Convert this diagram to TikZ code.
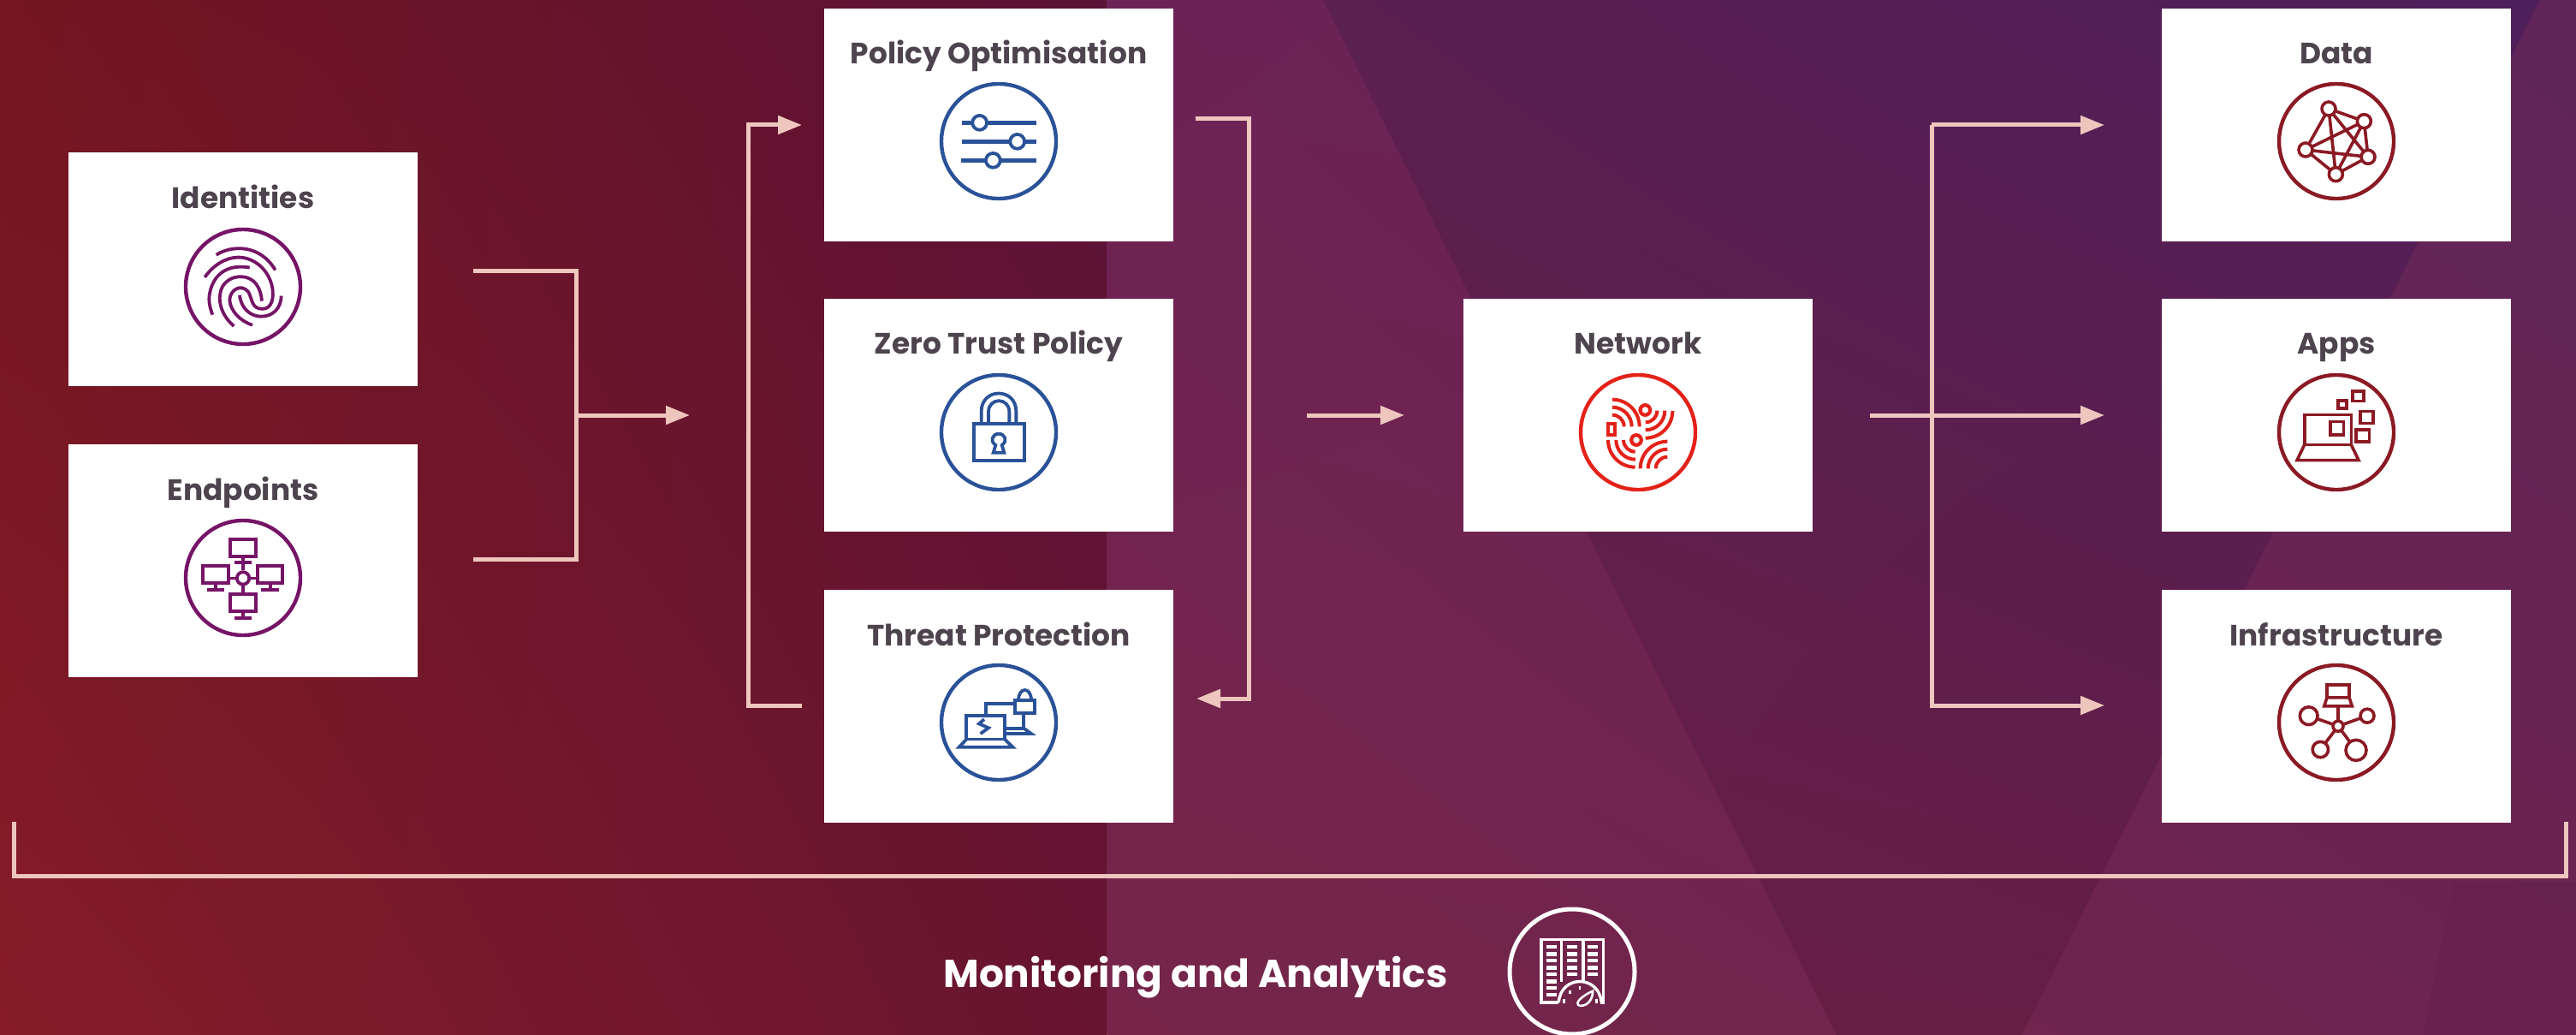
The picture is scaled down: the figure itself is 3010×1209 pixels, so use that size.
\documentclass[tikz,border=0pt]{standalone}
\usepackage{fontspec}
\setmainfont{Poppins}
\usetikzlibrary{arrows.meta,shadings}
\definecolor{lnk}{HTML}{EEC6BD}
\definecolor{ttl}{HTML}{4D444D}
\definecolor{plum}{HTML}{761467}
\definecolor{navy}{HTML}{2A5298}
\definecolor{redd}{HTML}{E32219}
\definecolor{wine}{HTML}{8B1A24}
\definecolor{aul}{HTML}{741520}
\definecolor{aur}{HTML}{5A1237}
\definecolor{all}{HTML}{851C28}
\definecolor{alr}{HTML}{671430}
\definecolor{bul}{HTML}{6D2256}
\definecolor{bur}{HTML}{5F2558}
\definecolor{bll}{HTML}{762548}
\definecolor{blr}{HTML}{6C2451}
\definecolor{cul}{HTML}{5B1F50}
\definecolor{cur}{HTML}{4D1F5B}
\definecolor{cll}{HTML}{6A1F44}
\definecolor{clr}{HTML}{631D46}
\tikzset{
  boxnode/.style={rectangle,fill=white,inner sep=0pt,outer sep=0pt,minimum width=204pt,minimum height=136pt},
  titlenode/.style={anchor=base,inner sep=0pt,text=ttl,font=\fontsize{17.2}{20}\selectfont\bfseries},
  ringnode/.style={circle,draw=#1,line width=2.2pt,inner sep=0pt,outer sep=0pt,minimum size=67pt},
  linkline/.style={draw=lnk,line width=2.5pt,line join=miter},
  linkarrow/.style={linkline,-{Triangle[length=14pt,width=10.5pt,fill=lnk]}},
  zone/.style={line width=1.9pt,line join=miter},
  zA/.style={shift={(60,170)},x=0.16667pt,y=-0.20088pt},
  zB/.style={shift={(950,0)},x=0.16667pt,y=-0.16667pt},
  zC/.style={shift={(950,340)},x=0.16667pt,y=-0.20088pt},
  zD/.style={shift={(1700,340)},x=0.16667pt,y=-0.16667pt},
  zE/.style={shift={(2520,0)},x=0.16667pt,y=-0.16667pt},
  zF/.style={shift={(2520,340)},x=0.16667pt,y=-0.20088pt},
  zG/.style={shift={(1080,1030)},x=0.28058pt,y=-0.16667pt},
}
\begin{document}
\begin{tikzpicture}[x=0.5pt,y=-0.5pt]
\useasboundingbox (0,0) rectangle (3010,1209);
% background
\shade[upper left=aul,upper right=aur,lower left=all,lower right=alr] (0,0) rectangle (1293.5,1209);
\shade[upper left=bul,upper right=bur,lower left=bll,lower right=blr] (1293.5,0) rectangle (3010,1209);
\begin{scope}
\clip (1546,0) -- (2967,0) -- (2362,1209) -- (2146,1209) -- cycle;
\shade[upper left=cul,upper right=cur,lower left=cll,lower right=clr] (1546,0) rectangle (2967,1209);
\end{scope}
\fill[color=black,opacity=.03] (2867,1030) -- (3010,1030) -- (3010,1209) -- (2831,1209) -- cycle;

% boxes
\node[boxnode] (identities) at (284,314.5) {};
\node[boxnode] (endpoints) at (284,655) {};
\node[boxnode] (policyopt) at (1167,146) {};
\node[boxnode] (zerotrust) at (1167,485) {};
\node[boxnode] (threat) at (1167,825) {};
\node[boxnode] (network) at (1914,485) {};
\node[boxnode] (data) at (2730,146) {};
\node[boxnode] (apps) at (2730,485) {};
\node[boxnode] (infra) at (2730,825) {};

% titles
\node[titlenode] (tidentities) at (284,244) {Identities};
\node[titlenode] (tendpoints) at (284,584) {Endpoints};
\node[titlenode] (tpolicyopt) at (1167,75) {Policy Optimisation};
\node[titlenode] (tzerotrust) at (1167,414) {Zero Trust Policy};
\node[titlenode] (tthreat) at (1167,754) {Threat Protection};
\node[titlenode] (tnetwork) at (1914,414) {Network};
\node[titlenode] (tdata) at (2730,75) {Data};
\node[titlenode] (tapps) at (2730,414) {Apps};
\node[titlenode] (tinfra) at (2730,754) {Infrastructure};

% rings
\node[ringnode=plum] (ridentities) at (284,335) {};
\node[ringnode=plum] (rendpoints) at (284,675) {};
\node[ringnode=navy] (rpolicyopt) at (1167,165) {};
\node[ringnode=navy] (rzerotrust) at (1167,505) {};
\node[ringnode=navy] (rthreat) at (1167,844) {};
\node[ringnode=redd] (rnetwork) at (1914,505) {};
\node[ringnode=wine] (rdata) at (2730,165) {};
\node[ringnode=wine] (rapps) at (2730,505) {};
\node[ringnode=wine] (rinfra) at (2730,844) {};

% fingerprint
\begin{scope}[zA,color=plum,zone]
\draw (578,318) .. controls (630,290) and (730,285) .. (785,362);
\draw (695,355) .. controls (630,345) and (570,365) .. (555,430) .. controls (550,450) and (555,470) .. (565,492);
\draw (640,525) .. controls (590,490) and (580,440) .. (600,410) .. controls (625,375) and (690,370) .. (720,405) .. controls (732,420) and (736,435) .. (738,452);
\draw (660,435) .. controls (665,475) and (700,497) .. (735,497) .. controls (775,497) and (805,475) .. (806,437);
\draw (705,522) .. controls (660,510) and (628,480) .. (625,450) .. controls (625,420) and (665,400) .. (690,425) .. controls (705,445) and (700,475) .. (740,475) .. controls (775,475) and (780,440) .. (775,415) .. controls (765,365) and (715,325) .. (655,325) .. controls (610,325) and (565,350) .. (538,383);
\end{scope}

% endpoints
\begin{scope}[zA,color=plum,zone]
\draw (628,1145) rectangle (716,1195);
\draw (532,1222) rectangle (620,1272);
\draw (724,1222) rectangle (810,1272);
\draw (628,1305) rectangle (716,1355);
\draw (672,1195) -- (672,1235);
\draw (642,1213) -- (702,1213);
\draw (576,1272) -- (576,1291) (545,1291) -- (607,1291);
\draw (767,1272) -- (767,1291) (735,1291) -- (797,1291);
\draw (672,1355) -- (672,1373) (642,1373) -- (702,1373);
\draw (620,1258) -- (724,1258);
\draw (672,1258) -- (672,1305);
\draw[fill=white] (672,1258) circle (3.6pt);
\end{scope}

% sliders
\begin{scope}[zB,color=navy]
\draw[line width=2.5pt] (522,430) -- (783,430) (522,496) -- (783,496) (519,562) -- (783,562);
\draw[zone,fill=white] (584,430) circle (4.2pt) (716,496) circle (4.2pt) (631,562) circle (4.2pt);
\end{scope}

% lock
\begin{scope}[zC,color=navy,zone]
\draw (563,385) rectangle (740,493);
\draw (590,385) -- (590,350) .. controls (590,280) and (712,280) .. (712,350) -- (712,385);
\draw (615,385) -- (615,352) .. controls (615,308) and (688,308) .. (688,352) -- (688,385);
\draw (640,448) .. controls (618,435) and (630,415) .. (651,415) .. controls (672,415) and (684,435) .. (662,448) -- (670,470) -- (632,470) -- cycle;
\end{scope}

% threat
\begin{scope}[zC,color=navy,zone]
\draw (605,1235) -- (605,1200) -- (707,1200);
\draw (678,1272) -- (740,1272) -- (765,1287) -- (678,1287);
\draw (738,1227) -- (738,1272);
\draw (707,1190) rectangle (777,1227);
\draw (720,1190) .. controls (720,1150) and (765,1150) .. (765,1190);
\draw (538,1303) -- (538,1235) -- (672,1235) -- (672,1303) -- cycle;
\draw (538,1303) -- (512,1326) -- (700,1326) -- (672,1303);
\draw (600,1245) -- (582,1258) -- (615,1270) -- (587,1287);
\end{scope}

% network icon
\begin{scope}[zD,color=redd,line width=2pt]
\draw (552,380) arc[start angle=-90,end angle=0,radius=95];
\draw (552,407) arc[start angle=-90,end angle=0,radius=68];
\draw (552,434) arc[start angle=-90,end angle=0,radius=41];
\draw (668,515) arc[start angle=90,end angle=0,radius=95];
\draw (668,487) arc[start angle=90,end angle=0,radius=68];
\draw (668,460) arc[start angle=90,end angle=0,radius=41];
\draw (537,522) arc[start angle=180,end angle=90,radius=95];
\draw (565,522) arc[start angle=180,end angle=90,radius=68];
\draw (591,522) arc[start angle=180,end angle=90,radius=41];
\draw (650,622) arc[start angle=180,end angle=270,radius=95];
\draw (677,622) arc[start angle=180,end angle=270,radius=68];
\draw (704,622) arc[start angle=180,end angle=270,radius=41];
\draw[line width=2.1pt] (537,465) rectangle (562,503);
\draw[line width=2.1pt] (667,417) circle (2.9pt) (636,522) circle (2.9pt);
\end{scope}

% data icon
\begin{scope}[zE,color=wine,line width=1.8pt]
\coordinate (na) at (603,381);
\coordinate (nb) at (727,425);
\coordinate (nc) at (522,525);
\coordinate (nd) at (741,550);
\coordinate (ne) at (628,611);
\draw (na) -- (nb) (na) -- (nc) (na) -- (nd) (na) -- (ne) (nb) -- (nc) (nb) -- (nd) (nb) -- (ne) (nc) -- (nd) (nc) -- (ne) (nd) -- (ne);
\draw[fill=white] (na) circle (4pt) (nb) circle (4pt) (nc) circle (4pt) (nd) circle (4pt) (ne) circle (4pt);
\end{scope}

% apps icon
\begin{scope}[zF,color=wine,line width=1.8pt,line join=miter]
\draw (518,447) -- (518,360) -- (682,360) -- (682,447) -- cycle;
\draw (518,447) -- (492,492) -- (708,492) -- (682,447);
\draw (608,380) rectangle (655,418);
\draw[line width=2pt] (636,319) rectangle (665,340);
\draw (687,291) rectangle (725,320);
\draw (713,350) rectangle (758,385);
\draw (699,403) rectangle (745,438);
\end{scope}

% infrastructure icon
\begin{scope}[zF,color=wine,line width=1.8pt,line join=miter]
\draw (597,1182) -- (597,1145) -- (675,1145) -- (675,1182);
\draw (597,1182) -- (675,1182) -- (685,1207) -- (587,1207) -- cycle;
\draw (636,1207) -- (636,1265);
\coordinate (ic) at (636,1265);
\coordinate (ia) at (533,1235);
\coordinate (ib) at (738,1235);
\coordinate (id) at (574,1333);
\coordinate (ie) at (699,1335);
\draw (ic) -- (ia) (ic) -- (ib) (ic) -- (id) (ic) -- (ie);
\draw[fill=white] (ic) circle (3pt) (ia) circle (5.2pt) (ib) circle (4pt) (id) circle (4.6pt) (ie) circle (6pt);
\end{scope}

% connectors
\coordinate (a1) at (553,317);
\coordinate (a2) at (673.5,317);
\coordinate (a3) at (673.5,653);
\coordinate (a4) at (553,653);
\coordinate (a5) at (673.5,485);
\coordinate (a6) at (806,485);
\draw[linkline] (a1) -- (a2) -- (a3) -- (a4);
\draw[linkarrow] (a5) -- (a6);

\coordinate (b1) at (937,824);
\coordinate (b2) at (874.5,824);
\coordinate (b3) at (874.5,146);
\coordinate (b4) at (937,146);
\draw[linkarrow] (b1) -- (b2) -- (b3) -- (b4);

\coordinate (c1) at (1397,139);
\coordinate (c2) at (1459,139);
\coordinate (c3) at (1459,816);
\coordinate (c4) at (1398,816);
\draw[linkarrow] (c1) -- (c2) -- (c3) -- (c4);

\coordinate (d1) at (1527,485);
\coordinate (d2) at (1641,485);
\draw[linkarrow] (d1) -- (d2);

\coordinate (e1) at (2185,485);
\coordinate (e2) at (2459,485);
\coordinate (e3) at (2459,146);
\coordinate (e4) at (2257,146);
\coordinate (e5) at (2257,824);
\coordinate (e6) at (2459,824);
\draw[linkarrow] (e1) -- (e2);
\draw[linkarrow] (e4) -- (e3);
\draw[linkarrow] (e4) -- (e5) -- (e6);

\coordinate (f1) at (16,960);
\coordinate (f2) at (16,1023);
\coordinate (f3) at (2998,1023);
\coordinate (f4) at (2998,960);
\draw[linkline] (f1) -- (f2) -- (f3) -- (f4);

% monitoring
\node[anchor=base,inner sep=0pt,text=white,font=\fontsize{22.7}{26}\selectfont\bfseries] (monitoring) at (1397,1153) {Monitoring and Analytics};
\node[circle,draw=white,line width=2.5pt,inner sep=0pt,minimum size=73pt] (rmon) at (1837,1135) {};
\begin{scope}[zG,color=white,line width=1.7pt,line join=miter]
\draw (1320,423) -- (1285,423) -- (1285,202) -- (1414,202) -- (1414,423) -- (1408,423);
\draw (1327,202) -- (1327,352) (1372,202) -- (1372,352);
\foreach \r in {222,247,270,295,318} {
  \fill (1295,\r) rectangle (1317,\r+13);
  \fill (1338,\r) rectangle (1360,\r+13);
  \fill (1381,\r) rectangle (1403,\r+13);
}
\foreach \r in {343,366,390} \fill (1295,\r) rectangle (1317,\r+13);
\draw (1321,423) .. controls (1325,325) and (1405,325) .. (1410,423);
\draw[line width=1.3pt] (1332,410) -- (1332,425) (1365,365) -- (1365,378) (1400,410) -- (1400,425) (1345,380) -- (1345,392);
\draw[line width=1.3pt] (1365,435) .. controls (1350,425) and (1375,395) .. (1392,383) .. controls (1392,405) and (1385,435) .. (1365,435);
\end{scope}
\end{tikzpicture}
\end{document}
